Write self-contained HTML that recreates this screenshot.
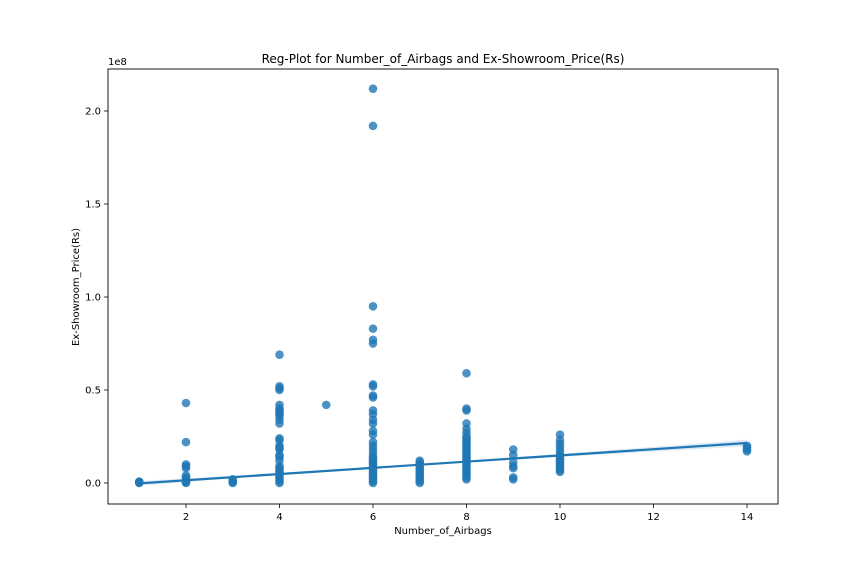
<!DOCTYPE html>
<html><head><meta charset="utf-8"><style>
body{margin:0;background:#fff;font-family:"Liberation Sans","DejaVu Sans",sans-serif}
svg text{font-family:"DejaVu Sans","Liberation Sans",sans-serif}
</style></head><body>
<svg id="chart" width="864" height="576" viewBox="0 0 864 576" xmlns="http://www.w3.org/2000/svg">
<rect width="864" height="576" fill="#fff"/>
<text x="443" y="63" font-size="12" text-anchor="middle" fill="#000">Reg-Plot for Number_of_Airbags and Ex-Showroom_Price(Rs)</text>
<g id="plot"></g>
<text x="108" y="65" font-size="10" fill="#000">1e8</text>
<text x="443" y="534" font-size="10" text-anchor="middle" fill="#000">Number_of_Airbags</text>
<text x="79" y="287" font-size="10" text-anchor="middle" fill="#000" transform="rotate(-90 79 287)">Ex-Showroom_Price(Rs)</text>
</svg>
<script>
const categories=[1,2,3,4,5,6,7,8,9,10,14];
const prices=[
[0,0.003,0.005,0.008],
[0.43,0.22,0.1,0.09,0.08,0.04,0.03,0.02,0.015,0.01,0.005,0],
[0,0.005,0.01,0.02],
[0.69,0.52,0.51,0.5,0.42,0.4,0.39,0.38,0.37,0.36,0.34,0.32,0.24,0.23,0.2,0.19,0.18,0.15,0.14,0.12,0.09,0.08,0.07,0.06,0.05,0.04,0.03,0.02,0.01,0],
[0.42],
[2.12,1.92,0.95,0.83,0.77,0.75,0.53,0.52,0.47,0.46,0.39,0.37,0.34,0.32,0.28,0.26,0.22,0.2,0.18,0.16,0.14,0.13,0.12,0.11,0.1,0.09,0.08,0.07,0.06,0.05,0.04,0.03,0.02,0.01,0],
[0.12,0.11,0.1,0.09,0.08,0.07,0.06,0.05,0.04,0.03,0.02,0.01,0],
[0.59,0.4,0.39,0.32,0.29,0.27,0.25,0.24,0.23,0.22,0.21,0.2,0.19,0.18,0.17,0.16,0.15,0.14,0.13,0.12,0.11,0.1,0.09,0.08,0.07,0.06,0.05,0.04,0.03,0.02],
[0.18,0.15,0.11,0.09,0.08,0.03,0.02],
[0.26,0.23,0.21,0.19,0.17,0.15,0.14,0.13,0.12,0.11,0.1,0.09,0.08,0.07,0.06],
[0.2,0.19,0.18,0.17]
];
const regX=[1,14];
const regY=[-0.002,0.215];
const ciX=[1,4,7,10,14];
const ciHalf=[0.012,0.006,0.005,0.008,0.018];
const xTicks=[2,4,6,8,10,12,14];
const yTicks=[0,0.5,1.0,1.5,2.0];
const yTickLabels=["0.0","0.5","1.0","1.5","2.0"];

const L=108,R=778,T=69,B=504;
const sx=v=>92.5+v*46.75;
const sy=v=>483-v*186;
const NS="http://www.w3.org/2000/svg";
const g=document.getElementById('plot');
function mk(t,a){const e=document.createElementNS(NS,t);for(const k in a)e.setAttribute(k,a[k]);g.appendChild(e);return e;}
// CI band
const interp=(x)=>{for(let i=0;i<ciX.length-1;i++){if(x<=ciX[i+1]){const f=(x-ciX[i])/(ciX[i+1]-ciX[i]);return ciHalf[i]+f*(ciHalf[i+1]-ciHalf[i]);}}return ciHalf[ciHalf.length-1];};
const line=x=>regY[0]+(x-regX[0])*(regY[1]-regY[0])/(regX[1]-regX[0]);
let up=[],dn=[];
for(let x=regX[0];x<=regX[1]+1e-9;x+=0.25){up.push(sx(x)+','+sy(line(x)+interp(x)));dn.unshift(sx(x)+','+sy(line(x)-interp(x)));}
const band=mk('polygon',{points:up.concat(dn).join(' '),fill:'#1f77b4','fill-opacity':0.15});


// points
categories.forEach((c,i)=>{prices[i].forEach(p=>{
const d=mk('circle',{cx:sx(c),cy:sy(p),r:4.3,fill:'#1f77b4','fill-opacity':0.8});


});});
const rl=mk('line',{x1:sx(regX[0]),y1:sy(regY[0]),x2:sx(regX[1]),y2:sy(regY[1]),stroke:'#1f77b4','stroke-width':2.2});


// frame
const fr=mk('rect',{x:L,y:T,width:R-L,height:B-T,fill:'none',stroke:'#000','stroke-width':0.9});


xTicks.forEach(t=>{
const tk=mk('line',{x1:sx(t),x2:sx(t),y1:B,y2:B+4,stroke:'#000','stroke-width':0.8});


const tx=mk('text',{x:sx(t),y:B+16,'font-size':10,'text-anchor':'middle',fill:'#000'});tx.textContent=t;


});
yTicks.forEach((t,i)=>{
const tk=mk('line',{x1:L-4,x2:L,y1:sy(t),y2:sy(t),stroke:'#000','stroke-width':0.8});


const tx=mk('text',{x:L-7,y:sy(t)+3.5,'font-size':10,'text-anchor':'end',fill:'#000'});tx.textContent=yTickLabels[i];


});
</script>
</body></html>
